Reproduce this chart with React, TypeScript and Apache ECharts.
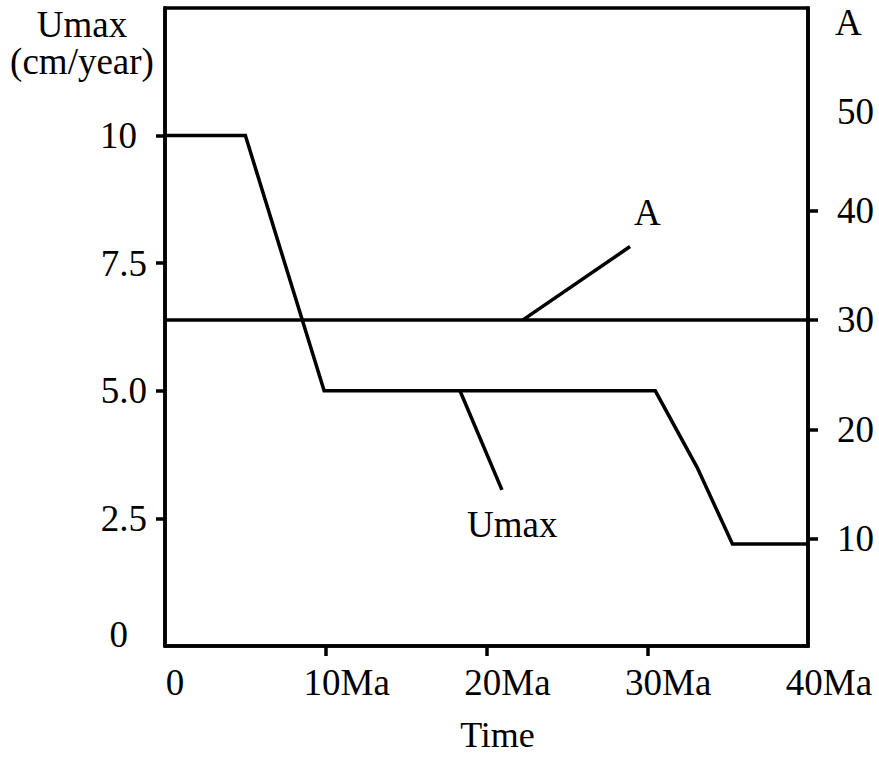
import React, { useEffect, useRef } from "react";
import * as echarts from "echarts";

// Axis tick labels
const timeLabels = [0, 10, 20, 30, 40];
const timeTicks = [10, 20, 30];
const umaxLabels = [0, 2.5, 5, 7.5, 10];
const umaxTicks = [2.5, 5, 7.5, 10];
const aLabels = [10, 20, 30, 40, 50];
const aTicks = [10, 20, 30, 40];

// Series: [time (Ma), value]
const umaxData: [number, number][] = [
  [0, 10],
  [5, 10],
  [9.9, 5],
  [30.5, 5],
  [33.1, 3.5],
  [35.3, 2],
  [40, 2],
];
const aData: [number, number][] = [
  [0, 30],
  [40, 30],
];

// Annotation leader lines and labels (data coordinates)
const umaxLeader: [number, number][] = [
  [18.35, 5],
  [20.96, 3.06],
];
const aLeader: [number, number][] = [
  [22.27, 30],
  [28.93, 36.7],
];
const umaxLabelPos: [number, number] = [21.6, 2.39];
const aLabelPos: [number, number] = [30.0, 39.8];

const FONT = "'Liberation Serif', 'Times New Roman', serif";
const FS = 37;
const LW = 3.5;

export default function App() {
  const ref = useRef<HTMLDivElement>(null);
  useEffect(() => {
    if (!ref.current) return;
    const chart = echarts.init(ref.current, undefined, { renderer: "svg" });
    const txt = { fontFamily: FONT, fontSize: FS, color: "#000", lineHeight: FS };
    const axisLine = { show: true, lineStyle: { color: "#000", width: LW } };
    chart.setOption({
      animation: false,
      backgroundColor: "#fff",
      grid: {
        left: 165,
        right: 71,
        top: 8,
        bottom: 111,
        show: true,
        borderColor: "#000",
        borderWidth: LW,
        containLabel: false,
        outerBoundsMode: "none",
      },
      xAxis: {
        type: "value",
        min: 0,
        max: 40,
        name: "Time",
        nameLocation: "middle",
        nameGap: 74,
        nameTextStyle: { ...txt, fontSize: 36, lineHeight: 30, padding: [0, 0, 0, 22] },
        axisLine,
        splitLine: { show: false },
        axisTick: {
          show: true,
          customValues: timeTicks,
          length: 10,
          lineStyle: { color: "#000", width: LW },
        },
        axisLabel: {
          customValues: timeLabels,
          margin: 18,
          ...txt,
          formatter: (v: number) => (v === 0 ? "{z|0}" : `{m|${v}Ma}`),
          rich: {
            z: { ...txt, padding: [0, 0, 0, 20] },
            m: { ...txt, padding: [0, 0, 0, 42] },
          },
        },
      },
      yAxis: [
        {
          type: "value",
          position: "left",
          min: 0,
          max: 12.5,
          name: "Umax\n(cm/year)",
          nameLocation: "end",
          nameGap: 2,
          nameTextStyle: {
            ...txt,
            align: "center",
            verticalAlign: "top",
            padding: [0, 166, 0, 0],
          },
          axisLine,
          splitLine: { show: false },
          axisTick: {
            show: true,
            customValues: umaxTicks,
            length: 9,
            lineStyle: { color: "#000", width: LW },
          },
          axisLabel: {
            customValues: umaxLabels,
            margin: 18,
            ...txt,
            formatter: (v: number) => {
              if (v === 0) return "{z|0}";
              if (v === 10) return "{t|10}";
              return `{n|${v.toFixed(1)}}`;
            },
            rich: {
              z: { ...txt, padding: [0, 19, 24, 0] },
              t: { ...txt, padding: [0, 10, 0, 0] },
              n: { ...txt },
            },
          },
        },
        {
          type: "value",
          position: "right",
          min: 0.2,
          max: 58.5,
          name: "A",
          nameLocation: "end",
          nameGap: 4,
          nameTextStyle: {
            ...txt,
            align: "left",
            verticalAlign: "top",
            padding: [0, 0, 0, 27],
          },
          axisLine,
          splitLine: { show: false },
          axisTick: {
            show: true,
            customValues: aTicks,
            length: 10,
            lineStyle: { color: "#000", width: LW },
          },
          axisLabel: {
            customValues: aLabels,
            margin: 29,
            ...txt,
            formatter: (v: number) => (v === 50 ? "{f|50}" : `{n|${v}}`),
            rich: {
              f: { ...txt, padding: [20, 0, 0, 0] },
              n: { ...txt },
            },
          },
        },
      ],
      series: [
        {
          name: "Umax",
          type: "line",
          xAxisIndex: 0,
          yAxisIndex: 0,
          data: umaxData,
          showSymbol: false,
          symbol: "none",
          silent: true,
          lineStyle: { color: "#000", width: LW, join: "miter" },
        },
        {
          name: "A",
          type: "line",
          xAxisIndex: 0,
          yAxisIndex: 1,
          data: aData,
          showSymbol: false,
          symbol: "none",
          silent: true,
          lineStyle: { color: "#000", width: LW },
        },
        {
          name: "Umax leader",
          type: "line",
          yAxisIndex: 0,
          data: umaxLeader,
          symbol: "none",
          silent: true,
          lineStyle: { color: "#000", width: LW },
        },
        {
          name: "A leader",
          type: "line",
          yAxisIndex: 1,
          data: aLeader,
          symbol: "none",
          silent: true,
          lineStyle: { color: "#000", width: LW },
        },
        {
          name: "Umax label",
          type: "scatter",
          yAxisIndex: 0,
          data: [umaxLabelPos],
          symbolSize: 0,
          silent: true,
          itemStyle: { opacity: 1, color: "#000" },
          label: {
            show: true,
            position: "inside",
            formatter: "Umax",
            opacity: 1,
            ...txt,
          },
        },
        {
          name: "A label",
          type: "scatter",
          yAxisIndex: 1,
          data: [aLabelPos],
          symbolSize: 0,
          silent: true,
          itemStyle: { opacity: 1, color: "#000" },
          label: {
            show: true,
            position: "inside",
            formatter: "A",
            opacity: 1,
            ...txt,
          },
        },
      ],
    });
    return () => chart.dispose();
  }, []);
  return (
    <div
      ref={ref}
      style={{ position: "fixed", left: 0, top: 0, width: 879, height: 757, background: "#fff" }}
    />
  );
}
